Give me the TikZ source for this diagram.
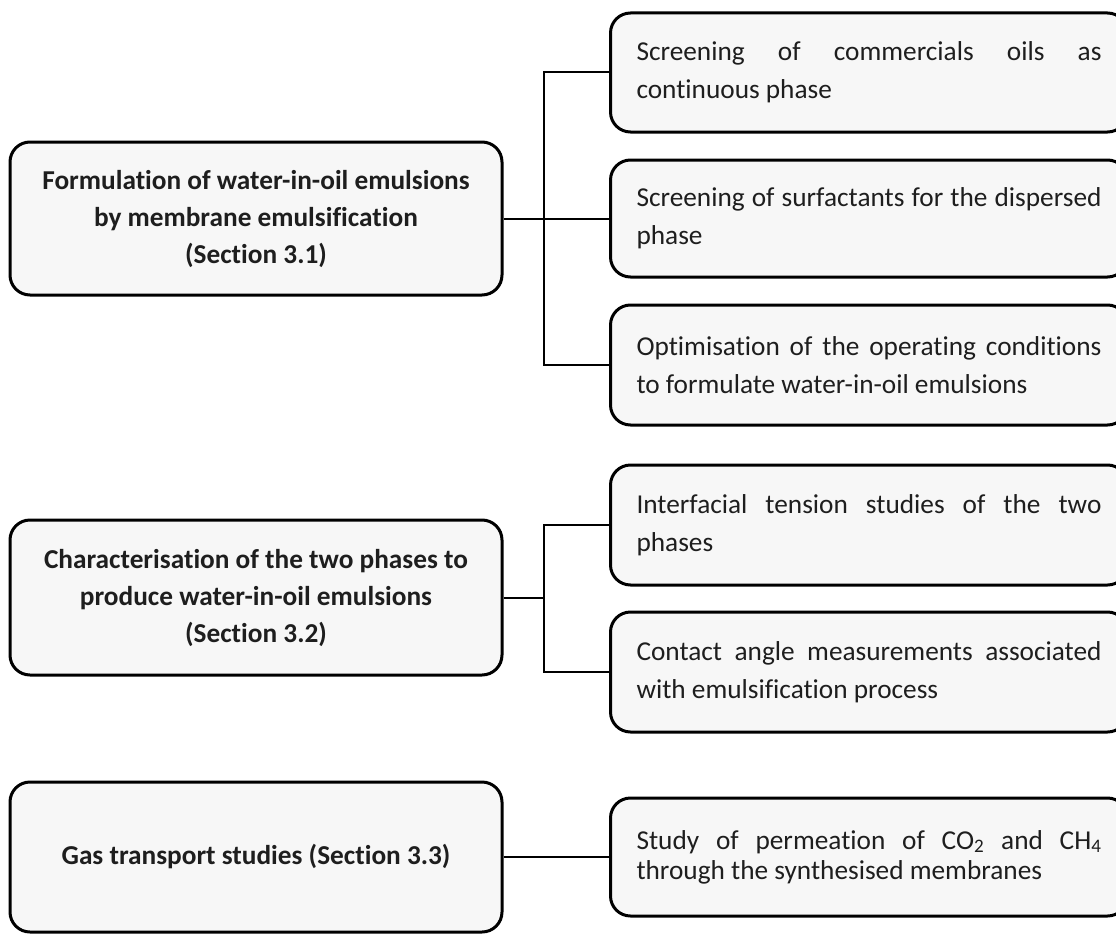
\documentclass[tikz,border=0pt]{standalone}
\usepackage{fontspec}
\setmainfont{Carlito}[Ligatures={NoCommon}]
\definecolor{boxgray}{HTML}{F7F7F7}
\definecolor{ink}{HTML}{1E1E1E}
\hyphenpenalty=10000
\exhyphenpenalty=10000
\tolerance=9999
\hbadness=10000
\tikzset{
  mainbox/.style={draw=black, line width=3pt, fill=boxgray, rounded corners=20pt,
    minimum width=492pt, align=center, inner sep=0pt, text=ink,
    font=\bfseries\fontsize{27.3}{37}\selectfont},
  subbox/.style={draw=black, line width=3pt, fill=boxgray, rounded corners=20pt,
    text width=465pt, align=justify, inner xsep=26pt, inner ysep=0pt, anchor=west, text=ink,
    font=\fontsize{27.3}{38}\selectfont},
  link/.style={line width=2pt, draw=black}
}
\begin{document}
\begin{tikzpicture}[x=1pt,y=-1pt]
\useasboundingbox (0,0) rectangle (1116,934);
\clip (0,0) rectangle (1116,934);
% main boxes
\node[mainbox, minimum height=153pt] (m1) at (256,218.5)
  {Formulation of water-in-oil emulsions\\by membrane emulsification\\(Section 3.1)};
\node[mainbox, minimum height=155pt] (m2) at (256,597.5)
  {Characterisation of the two phases to\\produce water-in-oil emulsions\\(Section 3.2)};
\node[mainbox, minimum height=150pt] (m3) at (256,857)
  {Gas transport studies (Section 3.3)};
% sub boxes
\node[subbox, minimum height=119pt] (s1) at (609,72.5)
  {Screening of commercials oils as continuous phase};
\node[subbox, minimum height=117pt] (s2) at (609,218.5)
  {Screening of surfactants for the dispersed phase};
\node[subbox, minimum height=120pt] (s3) at (609,365)
  {Optimisation of the operating conditions to formulate water-in-oil emulsions};
\node[subbox, minimum height=120pt] (s4) at (609,525)
  {Interfacial tension studies of the two phases};
\node[subbox, minimum height=120pt] (s5) at (609,672)
  {Contact angle measurements associated with emulsification process};
\node[subbox, minimum height=118pt, font=\fontsize{27.3}{30}\selectfont] (s6) at (609,857)
  {Study of permeation of CO\textsubscript{2} and CH\textsubscript{4} through the synthesised membranes};
% connectors
\draw[link] (m1.east) -- (s2.west);
\draw[link] (s1.west) -- ++(-65,0) |- (s3.west);
\coordinate (j2) at (544,597.5);
\draw[link] (m2.east) -- (j2);
\draw[link] (s4.west) -- ++(-65,0) |- (s5.west);
\draw[link] (m3.east) -- (s6.west);
\end{tikzpicture}
\end{document}
